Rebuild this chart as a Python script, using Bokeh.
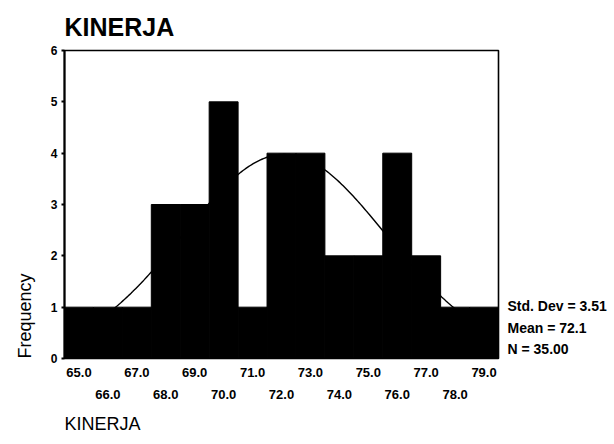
import numpy as np
from bokeh.plotting import figure
from bokeh.models import FixedTicker, LinearAxis, Title, Range1d, PrintfTickFormatter
from bokeh.embed import file_html
from bokeh.resources import INLINE

# Data
bin_centers = [65, 66, 67, 68, 69, 70, 71, 72, 73, 74, 75, 76, 77, 78, 79]
counts      = [1, 1, 1, 3, 3, 5, 1, 4, 4, 2, 2, 4, 2, 1, 1]
odd_ticks  = [65, 67, 69, 71, 73, 75, 77, 79]
even_ticks = [66, 68, 70, 72, 74, 76, 78]
y_ticks = [0, 1, 2, 3, 4, 5, 6]
std_dev = 3.51
mean = 72.1
n_obs = 35
stats_lines = ["Std. Dev = 3.51", "Mean = 72.1", "N = 35.00"]
stats_y = [1.02, 0.6, 0.18]

FONT = "Liberation Sans"

p = figure(width=614, height=444, x_range=Range1d(64.5, 79.5), y_range=Range1d(0, 6),
           output_backend="svg", toolbar_location=None, x_axis_location=None,
           min_border_left=62, min_border_right=116, min_border_top=50, min_border_bottom=86)

p.title.text = "KINERJA"
p.title.align = "left"
p.title.text_font = FONT
p.title.text_font_size = "25px"
p.title.text_font_style = "bold"
p.title.text_color = "black"
p.title.standoff = 19

p.xgrid.visible = False
p.ygrid.visible = False
p.outline_line_color = "black"
p.outline_line_width = 1.6
p.background_fill_color = "white"
p.border_fill_color = "white"

# normal curve (from reported mean, sd, N with bin width 1)
xs = np.linspace(64.5, 79.5, 300)
ys = n_obs * 1.0 / (std_dev * np.sqrt(2 * np.pi)) * np.exp(-0.5 * ((xs - mean) / std_dev) ** 2)
p.line(xs, ys, line_color="black", line_width=1.4)

left = [c - 0.5 for c in bin_centers]
right = [c + 0.5 for c in bin_centers]
p.quad(left=left, right=right, bottom=0, top=counts, fill_color="black", line_color="black")

# y axis
ya = p.yaxis[0]
ya.ticker = FixedTicker(ticks=y_ticks)
ya.axis_line_width = 2
ya.axis_line_color = "black"
ya.major_tick_out = 3
ya.major_tick_in = 0
ya.major_tick_line_width = 2
ya.major_tick_line_color = "black"
ya.major_label_text_font = FONT
ya.major_label_text_font_style = "bold"
ya.major_label_text_font_size = "12px"
ya.major_label_text_color = "black"
ya.major_label_standoff = 4

def make_xaxis(ticks, standoff):
    ax = LinearAxis(ticker=FixedTicker(ticks=ticks), formatter=PrintfTickFormatter(format="%.1f"))
    ax.axis_line_color = None
    ax.major_tick_line_color = None
    ax.major_tick_out = 0
    ax.major_tick_in = 0
    ax.major_label_text_font = FONT
    ax.major_label_text_font_style = "bold"
    ax.major_label_text_font_size = "13px"
    ax.major_label_text_color = "black"
    ax.major_label_standoff = standoff
    return ax

p.add_layout(make_xaxis(odd_ticks, 9), "below")
p.add_layout(make_xaxis(even_ticks, 10), "below")

bt = Title(text="KINERJA", align="left", text_font=FONT, text_font_size="18px",
           text_font_style="normal", text_color="black", standoff=20)
p.add_layout(bt, "below")

ft = Title(text="Frequency", align="left", text_font=FONT, text_font_size="18px",
           text_font_style="normal", text_color="black", standoff=25)
p.add_layout(ft, "left")

# statistics text, placed as labels of an unlined right axis
ra = LinearAxis(ticker=FixedTicker(ticks=stats_y),
                major_label_overrides={v: t for v, t in zip(stats_y, stats_lines)})
ra.axis_line_color = None
ra.major_tick_line_color = None
ra.major_tick_out = 0
ra.major_tick_in = 0
ra.major_label_text_font = FONT
ra.major_label_text_font_style = "bold"
ra.major_label_text_font_size = "14px"
ra.major_label_text_color = "black"
ra.major_label_standoff = 9
p.add_layout(ra, "right")

open("out.html", "w").write(file_html(p, INLINE))
